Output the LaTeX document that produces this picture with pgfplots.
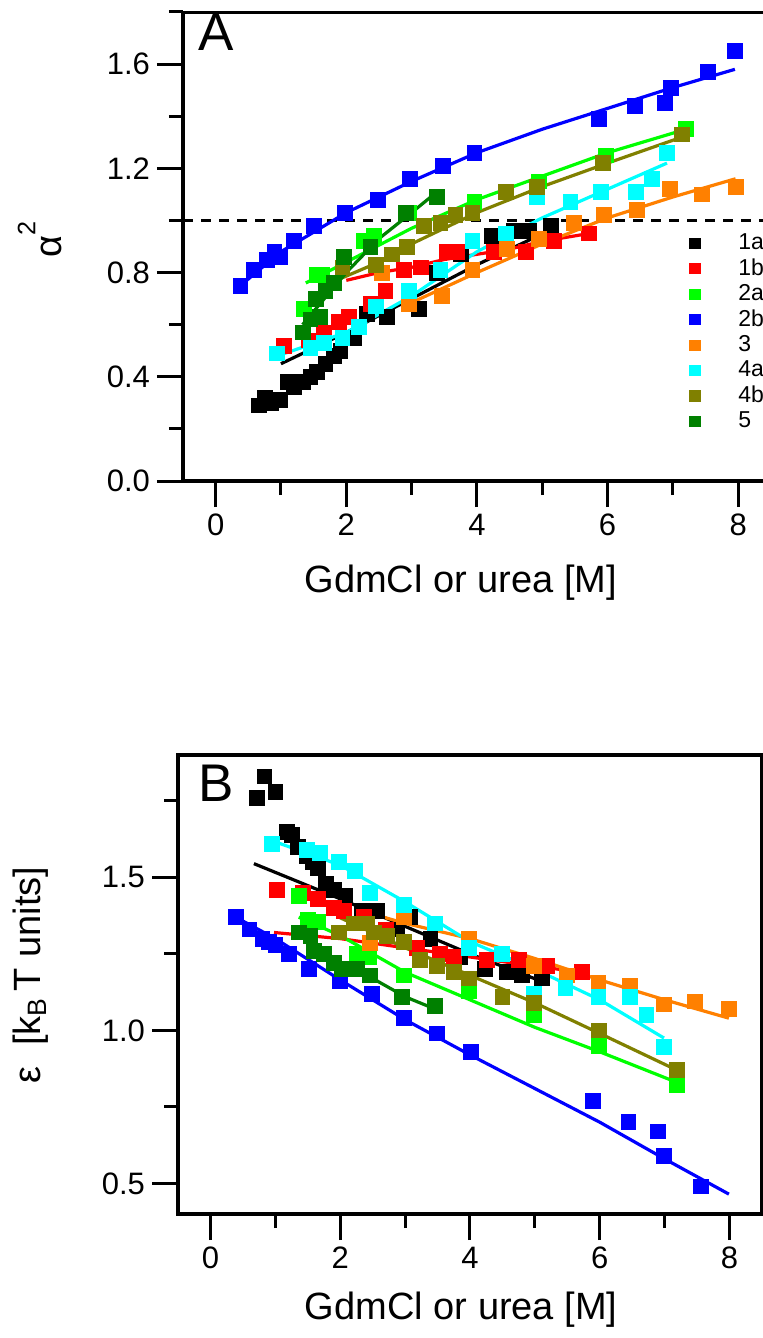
\documentclass[border=0pt]{standalone}
\usepackage{fontspec}
\setmainfont{Liberation Sans}
\usepackage{pgfplots}
\pgfplotsset{compat=1.18}
\definecolor{cgreen}{rgb}{0,1,0}
\definecolor{cblue}{rgb}{0,0,1}
\definecolor{corange}{rgb}{1,0.5,0}
\definecolor{ccyan}{rgb}{0,1,1}
\definecolor{colive}{rgb}{0.5,0.5,0}
\definecolor{cdkgreen}{rgb}{0,0.5,0}
\pgfplotsset{
  panel/.style={
    scale only axis, xmin=-0.5,
    xtick={0,2,4,6,8}, minor xtick={1,3,5,7},
    major tick length=13pt, minor tick length=7pt,
    tick style={black, line width=1.5pt},
    axis line style={line width=2pt,-},
    tick label style={font=\fontsize{15.5}{18}\selectfont},
    label style={font=\fontsize{19}{22}\selectfont},
    /pgf/number format/assume math mode=true,
    y tick label style={/pgf/number format/.cd, fixed, fixed zerofill, precision=1},
    xlabel={GdmCl or urea [M]},
  },
  mk/.style={only marks, mark=square*, mark size=3.7pt, color=#1, mark options={draw=none, fill=#1},
    legend image code/.code={\fill[draw=none] (0pt,-2.8pt) rectangle (5.6pt,2.8pt); \path[draw=none,fill=none] (0pt,0pt) -- (22.5pt,0pt);}},
  ln/.style={no marks, line width=1.6pt, color=#1, forget plot},
}
\begin{document}
\begin{tikzpicture}
\useasboundingbox (0,0) rectangle (381.5pt,-669pt);
% ---------------- Panel A ----------------
\begin{axis}[panel,
  at={(91.5pt,-6pt)}, anchor=north west, width=290pt, height=234.5pt,
  xmax=8.38, ymin=0, ymax=1.8,
  axis x line=bottom, axis y line=left, tick align=outside,
  x axis line style={-}, y axis line style={-},
  ytick={0,0.4,0.8,1.2,1.6}, minor ytick={0.2,0.6,1.0,1.4,1.8},
  xlabel style={at={(axis description cs:0.479,-0.217)}, anchor=center},
  ylabel={α\raisebox{13pt}{\fontsize{12.6}{13}\selectfont 2}},
  ylabel style={at={(axis description cs:-0.247,0.514)}, anchor=center},
  legend style={draw=none, fill=none, font=\fontsize{11.5}{13}\selectfont, at={(rel axis cs:0.862,0.545)}, anchor=north west, row sep=-0.9pt, legend cell align=left},
]
\draw[line width=2pt] (rel axis cs:0,1) -- (rel axis cs:1,1);
\addplot[black, dashed, dash pattern=on 5pt off 4pt, line width=1.2pt, forget plot] coordinates {(-0.5,1) (8.38,1)};
\addplot[mk=black] coordinates {(0.66,0.29) (0.75,0.32) (0.85,0.30) (0.99,0.31) (1.10,0.38) (1.20,0.36) (1.33,0.38) (1.45,0.40) (1.55,0.42) (1.68,0.45) (1.81,0.48) (1.91,0.50) (2.12,0.55) (2.32,0.64) (2.62,0.63) (3.11,0.66) (3.39,0.80) (3.75,0.87) (4.23,0.94) (4.57,0.96) (4.80,0.96) (5.13,0.98)};
\addlegendentry{1a}
\addplot[mk=red] coordinates {(1.05,0.52) (1.43,0.54) (1.66,0.57) (1.89,0.61) (2.04,0.63) (2.37,0.68) (2.60,0.73) (2.88,0.81) (3.14,0.82) (3.54,0.88) (3.70,0.88) (4.26,0.88) (4.75,0.88) (5.18,0.92) (5.72,0.95)};
\addlegendentry{1b}
\addplot[mk=cgreen] coordinates {(1.35,0.66) (1.55,0.79) (1.63,0.79) (2.27,0.92) (2.42,0.94) (2.96,1.03) (3.96,1.07) (4.95,1.15) (5.97,1.25) (7.20,1.35)};
\addlegendentry{2a}
\addplot[mk=cblue] coordinates {(0.38,0.75) (0.59,0.81) (0.79,0.85) (0.90,0.88) (0.99,0.86) (1.20,0.92) (1.50,0.98) (1.98,1.03) (2.49,1.08) (2.98,1.16) (3.48,1.21) (3.96,1.26) (5.87,1.39) (6.42,1.44) (6.88,1.45) (6.97,1.51) (7.54,1.57) (7.95,1.65)};
\addlegendentry{2b}
\addplot[mk=corange] coordinates {(2.55,0.80) (2.96,0.68) (3.47,0.71) (3.93,0.81) (4.46,0.89) (4.95,0.93) (5.49,0.99) (5.95,1.02) (6.45,1.04) (6.95,1.12) (7.45,1.10) (7.96,1.13)};
\addlegendentry{3}
\addplot[mk=ccyan] coordinates {(0.94,0.49) (1.45,0.51) (1.66,0.53) (1.94,0.55) (2.19,0.59) (2.45,0.67) (2.96,0.73) (3.44,0.81) (3.93,0.92) (4.44,0.95) (4.92,1.09) (5.43,1.07) (5.90,1.11) (6.43,1.11) (6.68,1.16) (6.91,1.26)};
\addlegendentry{4a}
\addplot[mk=colive] coordinates {(1.94,0.82) (2.45,0.83) (2.70,0.87) (2.93,0.90) (3.19,0.98) (3.44,0.99) (3.67,1.02) (3.93,1.03) (4.44,1.11) (4.92,1.13) (5.93,1.22) (7.14,1.33)};
\addlegendentry{4b}
\addplot[mk=cdkgreen] coordinates {(1.33,0.57) (1.45,0.62) (1.53,0.70) (1.60,0.63) (1.68,0.73) (1.81,0.76) (1.96,0.86) (2.37,0.90) (2.91,1.03) (3.39,1.09)};
\addlegendentry{5}
\addplot[ln=black] coordinates {(1.0,0.45) (2.0,0.57) (3.0,0.70) (4.0,0.83) (5.1,0.96)};
\addplot[ln=red] coordinates {(2.0,0.77) (2.5,0.80) (3.0,0.82) (3.5,0.85) (4.0,0.87) (4.5,0.89) (5.0,0.92) (5.72,0.95)};
\addplot[ln=cgreen] coordinates {(1.38,0.76) (2.0,0.84) (3.0,0.97) (4.0,1.08) (5.0,1.17) (6.0,1.26) (7.2,1.35)};
\addplot[ln=cblue] coordinates {(0.38,0.75) (1.0,0.88) (2.0,1.03) (3.0,1.15) (4.0,1.26) (5.0,1.35) (6.0,1.43) (7.0,1.51) (7.95,1.58)};
\addplot[ln=corange] coordinates {(2.96,0.68) (4.0,0.80) (5.0,0.91) (6.0,1.01) (7.0,1.09) (7.96,1.16)};
\addplot[ln=ccyan] coordinates {(0.94,0.48) (2.0,0.57) (3.0,0.71) (4.0,0.88) (5.0,1.01) (6.0,1.12) (6.91,1.22)};
\addplot[ln=colive] coordinates {(1.94,0.78) (2.5,0.84) (3.0,0.91) (4.0,1.03) (5.0,1.13) (6.0,1.22) (7.14,1.32)};
\addplot[ln=cdkgreen] coordinates {(1.33,0.60) (2.0,0.80) (2.5,0.93) (3.0,1.03) (3.39,1.11)};
\node[anchor=north west, inner sep=0pt, font=\fontsize{26.5}{30}\selectfont] at (rel axis cs:0.026,0.996) {A};
\end{axis}
% ---------------- Panel B ----------------
\begin{axis}[panel,
  at={(89pt,-377.5pt)}, anchor=north west, width=292pt, height=229.5pt,
  xmax=8.5, ymin=0.4, ymax=1.9,
  tick align=outside, xtick pos=bottom, ytick pos=left,
  ytick={0.5,1.0,1.5}, minor ytick={0.75,1.25,1.75},
  xlabel style={at={(axis description cs:0.485,-0.209)}, anchor=center},
  ylabel={ε\ \ [k\textsubscript{B}\,T units]},
  ylabel style={at={(axis description cs:-0.253,0.52)}, anchor=center},
]
\addplot[mk=black] coordinates {(0.72,1.76) (0.83,1.83) (1.00,1.78) (1.18,1.65) (1.25,1.64) (1.35,1.60) (1.49,1.57) (1.58,1.55) (1.65,1.53) (1.78,1.48) (1.90,1.46) (2.08,1.44) (2.34,1.39) (2.57,1.39) (2.88,1.33) (3.08,1.37) (3.39,1.30) (3.85,1.24) (4.23,1.20) (4.57,1.19) (4.80,1.18) (5.11,1.17)};
\addplot[mk=red] coordinates {(1.03,1.46) (1.42,1.45) (1.65,1.43) (1.90,1.40) (2.06,1.39) (2.36,1.37) (2.70,1.33) (3.18,1.27) (3.54,1.25) (3.75,1.24) (4.26,1.23) (4.75,1.23) (5.18,1.21) (5.72,1.19)};
\addplot[mk=cgreen] coordinates {(1.36,1.44) (1.50,1.36) (1.65,1.355) (2.26,1.25) (2.44,1.24) (2.98,1.18) (3.98,1.13) (4.98,1.05) (5.99,0.95) (7.19,0.82)};
\addplot[mk=cblue] coordinates {(0.39,1.37) (0.60,1.33) (0.80,1.30) (0.90,1.29) (1.00,1.28) (1.21,1.25) (1.52,1.20) (2.00,1.16) (2.49,1.12) (2.98,1.04) (3.49,0.99) (4.01,0.93) (5.90,0.77) (6.44,0.70) (6.90,0.67) (6.99,0.59) (7.56,0.49)};
\addplot[mk=corange] coordinates {(2.46,1.285) (2.98,1.37) (3.98,1.30) (4.98,1.21) (5.49,1.18) (5.98,1.155) (6.46,1.145) (6.99,1.085) (7.47,1.095) (7.99,1.07)};
\addplot[mk=ccyan] coordinates {(0.95,1.61) (1.49,1.59) (1.69,1.58) (1.98,1.55) (2.23,1.52) (2.46,1.45) (2.98,1.41) (3.46,1.35) (3.98,1.27) (4.49,1.25) (4.98,1.12) (5.47,1.14) (5.98,1.11) (6.47,1.11) (6.72,1.05) (6.99,0.945)};
\addplot[mk=colive] coordinates {(1.98,1.32) (2.21,1.35) (2.42,1.35) (2.52,1.32) (2.72,1.31) (2.98,1.29) (3.23,1.23) (3.49,1.21) (3.75,1.19) (3.98,1.17) (4.50,1.11) (4.99,1.09) (5.99,1.00) (7.19,0.87)};
\addplot[mk=cdkgreen] coordinates {(1.36,1.32) (1.54,1.31) (1.60,1.26) (1.75,1.25) (1.90,1.22) (2.03,1.20) (2.26,1.20) (2.46,1.18) (2.95,1.11) (3.46,1.08)};
\addplot[ln=black] coordinates {(0.67,1.545) (2.0,1.43) (3.0,1.34) (4.0,1.25) (5.11,1.16)};
\addplot[ln=red] coordinates {(0.98,1.32) (2.0,1.30) (3.0,1.27) (4.0,1.24) (5.0,1.21) (5.72,1.19)};
\addplot[ln=cgreen] coordinates {(1.36,1.37) (2.0,1.31) (3.0,1.19) (4.0,1.10) (5.0,1.01) (6.0,0.93) (7.19,0.83)};
\addplot[ln=cblue] coordinates {(0.39,1.37) (1.0,1.30) (2.0,1.165) (3.0,1.035) (4.0,0.92) (5.0,0.81) (6.0,0.70) (7.0,0.58) (7.99,0.465)};
\addplot[ln=corange] coordinates {(2.5,1.38) (3.0,1.35) (4.0,1.30) (5.0,1.235) (6.0,1.165) (7.0,1.10) (7.99,1.04)};
\addplot[ln=ccyan] coordinates {(0.95,1.62) (2.0,1.54) (3.0,1.42) (4.0,1.29) (5.0,1.20) (6.0,1.10) (6.99,0.975)};
\addplot[ln=colive] coordinates {(1.98,1.37) (3.0,1.27) (4.0,1.18) (5.0,1.09) (6.0,0.99) (7.19,0.87)};
\addplot[ln=cdkgreen] coordinates {(1.36,1.32) (2.0,1.22) (2.5,1.17) (3.0,1.11) (3.46,1.07)};
\node[anchor=north west, inner sep=0pt, font=\fontsize{26.5}{30}\selectfont] at (rel axis cs:0.034,0.978) {B};
\end{axis}
\end{tikzpicture}
\end{document}
